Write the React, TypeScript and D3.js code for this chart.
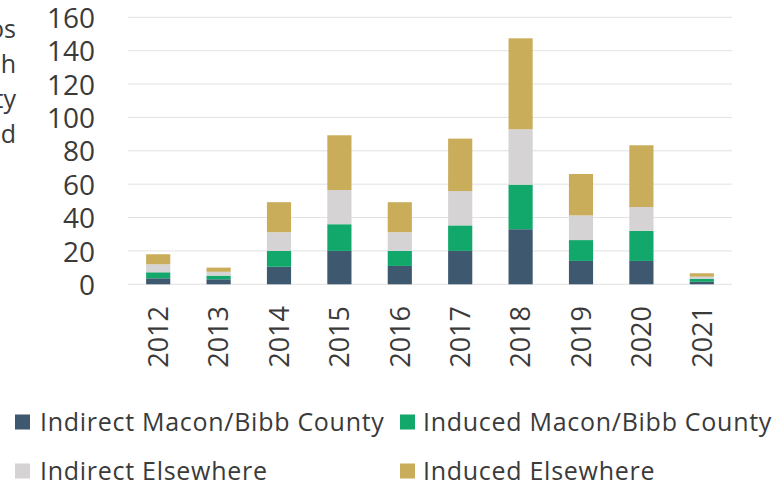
import React from 'react';
import * as d3 from 'd3';

const years = ['2012', '2013', '2014', '2015', '2016', '2017', '2018', '2019', '2020', '2021'];
const indirectMacon = [3.6, 3, 10.5, 20, 11, 20, 33, 14, 14, 1.5];
const inducedMacon = [3.6, 2.2, 9.5, 16, 9, 15.3, 26.7, 12.5, 18, 1.7];
const indirectElsewhere = [4.8, 2.3, 11.2, 20.5, 11.2, 20.6, 33.2, 14.8, 14.3, 1.4];
const inducedElsewhere = [6, 2.5, 18, 32.8, 18, 31.4, 54.5, 24.8, 37, 2];
const yTicks = [0, 20, 40, 60, 80, 100, 120, 140, 160];
const seriesNames = ['Indirect Macon/Bibb County', 'Induced Macon/Bibb County', 'Indirect Elsewhere', 'Induced Elsewhere'];
const sideText = ['bs', 'h', 'ty', 'd'];

const colors = ['#3e5870', '#13a86b', '#d5d3d3', '#c9ad5a'];
const font = "'Open Sans', sans-serif";
const textColor = '#3a3a3a';

const App: React.FC = () => {
  const width = 780;
  const height = 484;

  const x = d3.scaleBand().domain(years).range([128, 732]).paddingInner(0.6).paddingOuter(0.3);
  const y = d3.scaleLinear().domain([0, 160]).range([284.3, 17.3]);

  const rows = years.map((yr, i) => ({
    year: yr,
    s0: indirectMacon[i],
    s1: inducedMacon[i],
    s2: indirectElsewhere[i],
    s3: inducedElsewhere[i],
  }));
  const stack = d3.stack<any>().keys(['s0', 's1', 's2', 's3']);
  const layers = stack(rows);

  // legend item positions: square left x, text left x, row centre y
  const legendPos = [
    { sx: 15, tx: 40, y: 422 },
    { sx: 400, tx: 423, y: 422 },
    { sx: 15, tx: 40, y: 471 },
    { sx: 400, tx: 423, y: 471 },
  ];

  return (
    <svg width={width} height={height} style={{ position: 'absolute', left: 0, top: 0, background: '#fff' }}>
      <g fontFamily={font} fill={textColor}>
        {sideText.map((t, i) => (
          <text key={t} x={16} y={38 + i * 35} textAnchor="end" fontSize={25}>
            {t}
          </text>
        ))}
      </g>
      <g>
        {yTicks.map((t) => (
          <line key={t} x1={128} x2={732} y1={y(t)} y2={y(t)} stroke="#e2e2e2" strokeWidth={1} />
        ))}
      </g>
      <g fontFamily={font} fill={textColor} fontSize={28}>
        {yTicks.map((t) => (
          <text key={t} x={95} y={y(t) + 0.5} dy="0.36em" textAnchor="end">
            {t}
          </text>
        ))}
      </g>
      <g>
        {layers.map((layer, li) => (
          <g key={li} fill={colors[li]}>
            {layer.map((d: any) => (
              <rect
                key={d.data.year}
                x={x(d.data.year)}
                width={x.bandwidth()}
                y={y(d[1])}
                height={y(d[0]) - y(d[1])}
              />
            ))}
          </g>
        ))}
      </g>
      <g fontFamily={font} fill={textColor} fontSize={27}>
        {years.map((yr) => (
          <text
            key={yr}
            transform={`translate(${(x(yr) as number) + x.bandwidth() / 2},306) rotate(-90)`}
            textAnchor="end"
            dy="0.36em"
          >
            {yr}
          </text>
        ))}
      </g>
      <g fontFamily={font} fill={textColor} fontSize={25} letterSpacing={0.72}>
        {seriesNames.map((n, i) => (
          <g key={n}>
            <rect x={legendPos[i].sx} y={legendPos[i].y - 7.5} width={15} height={15} fill={colors[i]} />
            <text x={legendPos[i].tx} y={legendPos[i].y} dy="0.36em">
              {n}
            </text>
          </g>
        ))}
      </g>
    </svg>
  );
};

export default App;
